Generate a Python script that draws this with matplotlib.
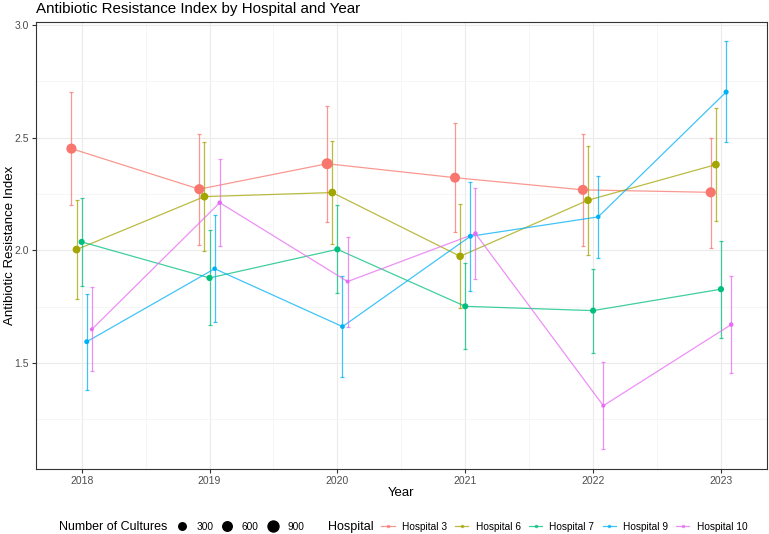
#!/usr/bin/env python3
# -*- coding: utf-8 -*-
"""
Antibiotic Resistance Index by Hospital and Year

Dodged line + error bar chart, point size = number of cultures
"""

import numpy as np
import matplotlib.pyplot as plt
from matplotlib.lines import Line2D
from matplotlib.ticker import MultipleLocator

plt.rcParams['font.family'] = ['Liberation Sans', 'DejaVu Sans']

# Data
years = [2018, 2019, 2020, 2021, 2022, 2023]
hospitals = ['Hospital 3', 'Hospital 6', 'Hospital 7', 'Hospital 9', 'Hospital 10']

h3_index = [2.451, 2.271, 2.384, 2.322, 2.268, 2.257]
h3_low = [2.200, 2.022, 2.127, 2.080, 2.019, 2.012]
h3_high = [2.701, 2.515, 2.642, 2.564, 2.515, 2.500]
h3_cultures = [720, 700, 900, 680, 700, 720]

h6_index = [2.003, 2.238, 2.256, 1.973, 2.222, 2.380]
h6_low = [1.783, 1.997, 2.027, 1.742, 1.980, 2.130]
h6_high = [2.223, 2.479, 2.485, 2.204, 2.464, 2.630]
h6_cultures = [330, 340, 330, 310, 320, 330]

h7_index = [2.037, 1.877, 2.004, 1.751, 1.732, 1.827]
h7_low = [1.842, 1.668, 1.809, 1.561, 1.545, 1.611]
h7_high = [2.231, 2.090, 2.201, 1.944, 1.918, 2.043]
h7_cultures = [170, 180, 170, 165, 170, 175]

h9_index = [1.594, 1.918, 1.661, 2.062, 2.148, 2.702]
h9_low = [1.381, 1.680, 1.439, 1.821, 1.967, 2.479]
h9_high = [1.807, 2.155, 1.886, 2.302, 2.328, 2.930]
h9_cultures = [110, 100, 105, 110, 100, 115]

h10_index = [1.649, 2.211, 1.861, 2.074, 1.310, 1.670]
h10_low = [1.464, 2.019, 1.658, 1.871, 1.118, 1.454]
h10_high = [1.836, 2.407, 2.060, 2.278, 1.503, 1.887]
h10_cultures = [95, 100, 95, 100, 95, 100]

colors = ['#F8766D', '#A3A500', '#00BF7D', '#00B0F6', '#E76BF3']
size_breaks = [300, 600, 900]


def marker_px(n, nmin, nmax):
    """ggplot-like area scale: diameter in pixels"""
    frac = np.clip((np.asarray(n, dtype=float) - nmin) / (nmax - nmin), 0, 1)
    return 4 + 7 * np.sqrt(frac)


def create_plot():
    series = [
        (h3_index, h3_low, h3_high, h3_cultures),
        (h6_index, h6_low, h6_high, h6_cultures),
        (h7_index, h7_low, h7_high, h7_cultures),
        (h9_index, h9_low, h9_high, h9_cultures),
        (h10_index, h10_low, h10_high, h10_cultures),
    ]
    all_n = np.concatenate([s[3] for s in series])
    nmin, nmax = all_n.min(), all_n.max()
    px2pt = 72 / 100

    fig = plt.figure(figsize=(7.69, 5.34), dpi=100)
    ax = fig.add_axes([36 / 769, 1 - 469 / 534, 731 / 769, 447 / 534])

    offsets = np.linspace(-0.08, 0.08, len(hospitals))
    x = np.array(years, dtype=float)

    for i, (vals, lo, hi, n) in enumerate(series):
        xs = x + offsets[i]
        vals = np.array(vals)
        yerr = [vals - np.array(lo), np.array(hi) - vals]
        ax.plot(xs, vals, color=colors[i], lw=0.9, alpha=0.75, zorder=3)
        ax.errorbar(xs, vals, yerr=yerr, fmt='none', ecolor=colors[i],
                    elinewidth=0.9, capsize=1.6, capthick=0.9, alpha=0.75, zorder=3)
        sizes = (marker_px(n, nmin, nmax) * px2pt) ** 2
        ax.scatter(xs, vals, s=sizes, color=colors[i], edgecolors='none', zorder=4)

    ax.set_xlim(2017.643, 2023.36)
    ax.set_ylim(1.029, 3.013)
    ax.set_xticks(years)
    ax.set_xticklabels([str(y) for y in years])
    ax.yaxis.set_major_locator(MultipleLocator(0.5))
    ax.set_yticks([1.25, 1.75, 2.25, 2.75], minor=True)
    ax.set_xticks([y + 0.5 for y in years[:-1]], minor=True)
    ax.yaxis.set_major_formatter(plt.FormatStrFormatter('%.1f'))

    ax.grid(which='major', color='#EBEBEB', lw=0.8)
    ax.grid(which='minor', color='#F3F3F3', lw=0.5)
    ax.set_axisbelow(True)
    for sp in ax.spines.values():
        sp.set_color('#333333')
        sp.set_linewidth(0.8)
    ax.tick_params(which='major', length=3, width=0.8, color='#333333',
                   labelsize=7.5, labelcolor='#4D4D4D', pad=2)
    ax.tick_params(which='minor', length=0)

    ax.set_xlabel('Year', fontsize=9.5, va='center')
    ax.xaxis.set_label_coords(0.5, -(492.7 - 469) / 447, transform=ax.transAxes)
    ax.set_ylabel('Antibiotic Resistance Index', fontsize=9.5, va='center')
    ax.yaxis.set_label_coords(-(36 - 10) / 731, 0.5, transform=ax.transAxes)
    fig.text(36 / 769, 1 - 9 / 534, 'Antibiotic Resistance Index by Hospital and Year',
             fontsize=10.9, ha='left', va='center')

    # Size legend
    legend_y = 1 - 526.7 / 534
    fs = 7.3
    size_handles = [Line2D([], [], ls='none', marker='o', color='black',
                           markersize=float(marker_px(b, nmin, nmax)) * px2pt)
                    for b in size_breaks]
    fig.text(59 / 769, legend_y, 'Number of Cultures', fontsize=9, va='center')
    fig.legend(size_handles, [str(b) for b in size_breaks], loc='center left',
               bbox_to_anchor=(176.6 / 769, legend_y), ncol=3, frameon=False,
               fontsize=fs, handlelength=1.0, handletextpad=0.92,
               columnspacing=0.91, borderpad=0, borderaxespad=0)

    # Hospital legend
    hosp_handles = [Line2D([], [], color=c, lw=0.9, alpha=0.75, marker='o',
                           markersize=2.5, markeredgecolor='none') for c in colors]
    fig.text(328 / 769, legend_y, 'Hospital', fontsize=9, va='center')
    fig.legend(hosp_handles, hospitals, loc='center left',
               bbox_to_anchor=(381.4 / 769, legend_y), ncol=5, frameon=False,
               fontsize=fs, handlelength=1.3, handletextpad=0.71,
               columnspacing=0.82, borderpad=0, borderaxespad=0)

    fig.savefig('out.png', dpi=100)


def main():
    create_plot()


if __name__ == "__main__":
    main()
